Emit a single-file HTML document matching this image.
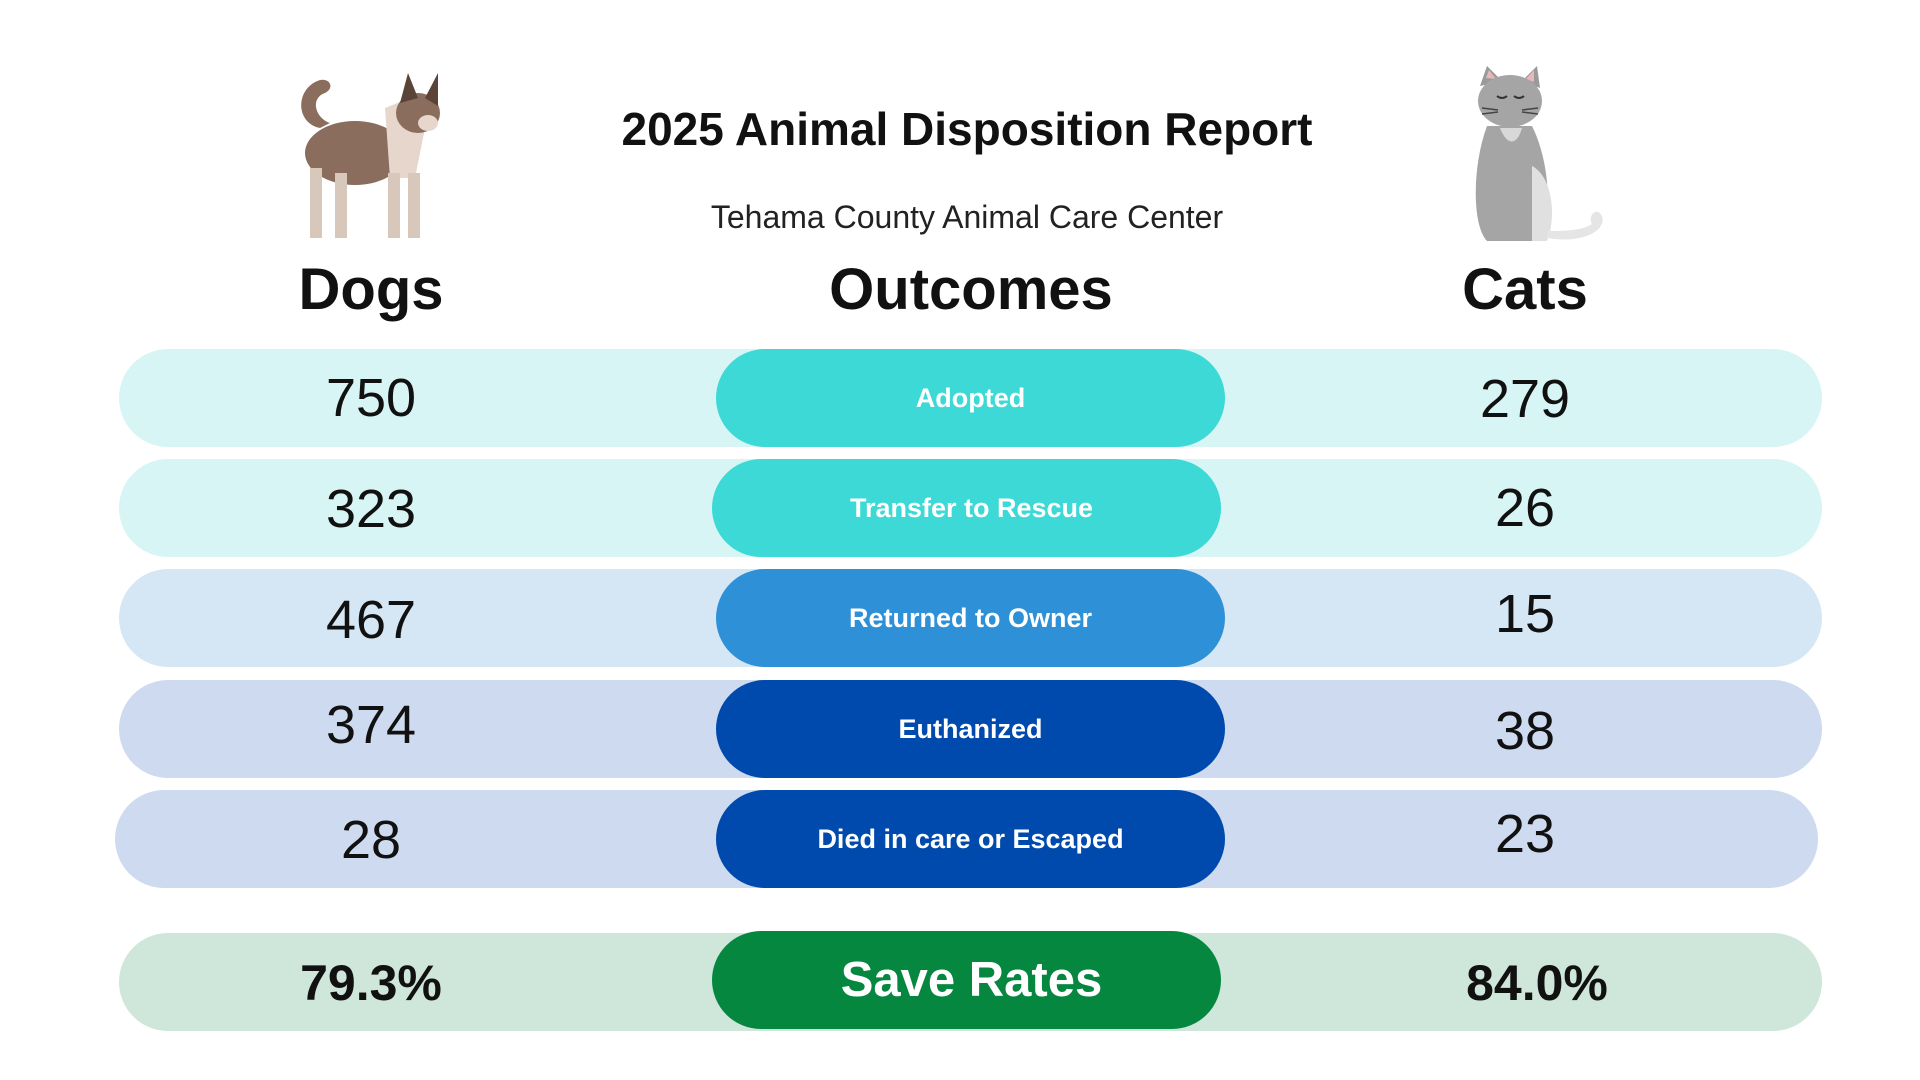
<!DOCTYPE html>
<html><head><meta charset="utf-8"><style>
*{margin:0;padding:0;box-sizing:border-box}
body{width:1920px;height:1080px;background:#fff;position:relative;overflow:hidden;font-family:"Liberation Sans",sans-serif}
.t{position:absolute;text-align:center;white-space:nowrap}
.row{position:absolute;left:119px;width:1703px;height:98px;border-radius:49px}
.pill{position:absolute;left:716px;width:509px;height:98px;border-radius:49px;color:#fff;font-weight:bold;font-size:27px;display:flex;align-items:center;justify-content:center}
.num{position:absolute;width:300px;text-align:center;font-size:54px;color:#111;line-height:98px}
.d{left:221px}.c{left:1375px}
</style></head><body>
<div class="t" style="left:0;width:1934px;top:102px;font-size:46px;font-weight:bold;color:#111">2025 Animal Disposition Report</div>
<div class="t" style="left:0;width:1934px;top:199px;font-size:32px;color:#222">Tehama County Animal Care Center</div>
<div class="t" style="left:221px;width:300px;top:256px;font-size:58px;font-weight:bold;color:#111">Dogs</div>
<div class="t" style="left:721px;width:500px;top:256px;font-size:58px;font-weight:bold;color:#111">Outcomes</div>
<div class="t" style="left:1375px;width:300px;top:256px;font-size:58px;font-weight:bold;color:#111">Cats</div>

<svg style="position:absolute;left:290px;top:68px" width="160" height="180" viewBox="0 0 160 180">
<path d="M30 60 C5 55 5 20 30 12 C40 10 45 20 35 25 C20 30 25 50 40 55Z" fill="#8a6d5c"/>
<ellipse cx="65" cy="85" rx="50" ry="32" fill="#8a6d5c"/>
<path d="M95 40 L120 30 L135 60 L125 110 L100 110 Z" fill="#e6d6cc"/>
<ellipse cx="128" cy="45" rx="22" ry="20" fill="#8a6d5c"/>
<path d="M110 35 L118 5 L128 30Z M135 30 L148 5 L148 38Z" fill="#5a4438"/>
<ellipse cx="138" cy="55" rx="10" ry="8" fill="#e6d6cc"/>
<rect x="20" y="100" width="12" height="70" fill="#d8c8bc"/><rect x="45" y="105" width="12" height="65" fill="#d8c8bc"/>
<rect x="98" y="105" width="12" height="65" fill="#d8c8bc"/><rect x="118" y="105" width="12" height="65" fill="#d8c8bc"/>
</svg>
<svg style="position:absolute;left:1462px;top:66px" width="150" height="190" viewBox="0 0 150 190">
<path d="M18 20 L25 0 L40 15Z M60 15 L75 0 L78 22Z" fill="#9a9a9a"/>
<path d="M24 12 L27 4 L34 13Z M64 13 L72 4 L72 16Z" fill="#e8b8b8"/>
<ellipse cx="48" cy="35" rx="32" ry="26" fill="#a5a5a5"/>
<path d="M25 60 C10 100 10 160 25 175 L75 175 C90 160 90 100 70 60Z" fill="#a5a5a5"/>
<path d="M38 62 C45 80 55 80 60 62Z" fill="#d8d8d8"/>
<path d="M70 100 C90 110 95 150 85 175 L70 175Z" fill="#e0e0e0"/>
<path d="M85 172 C120 178 145 165 140 150 C135 140 125 150 130 158 C120 165 100 165 85 165Z" fill="#e5e5e5"/>
<path d="M35 30 q5 4 10 0 M52 30 q5 4 10 0" stroke="#333" stroke-width="2" fill="none"/>
<path d="M20 42 L36 44 M20 48 L36 46 M76 42 L60 44 M76 48 L60 46" stroke="#444" stroke-width="1.5"/>
</svg>

<div class="row" style="top:349px;background:#d6f5f4"></div>
<div class="row" style="top:459px;background:#d6f5f4"></div>
<div class="row" style="top:569px;background:#d5e6f5"></div>
<div class="row" style="top:680px;background:#cddaef"></div>
<div class="row" style="top:790px;left:115px;background:#cddaef"></div>
<div class="row" style="top:933px;background:#cfe6da"></div>

<div class="pill" style="top:349px;background:#3dd9d6">Adopted</div>
<div class="pill" style="top:459px;left:712px;padding-left:10px;background:#3dd9d6">Transfer to Rescue</div>
<div class="pill" style="top:569px;background:#2e90d6">Returned to Owner</div>
<div class="pill" style="top:680px;background:#004aad">Euthanized</div>
<div class="pill" style="top:790px;background:#004aad">Died in care or Escaped</div>
<div class="pill" style="top:931px;left:712px;padding-left:10px;background:#05873f;font-size:49px">Save Rates</div>

<div class="num d" style="top:349px">750</div><div class="num c" style="top:350px">279</div>
<div class="num d" style="top:460px">323</div><div class="num c" style="top:459px">26</div>
<div class="num d" style="top:571px">467</div><div class="num c" style="top:565px">15</div>
<div class="num d" style="top:676px">374</div><div class="num c" style="top:682px">38</div>
<div class="num d" style="top:791px">28</div><div class="num c" style="top:785px">23</div>
<div class="num d" style="top:934px;font-weight:bold;font-size:50px">79.3%</div>
<div class="num c" style="top:934px;left:1387px;font-weight:bold;font-size:50px">84.0%</div>
</body></html>
